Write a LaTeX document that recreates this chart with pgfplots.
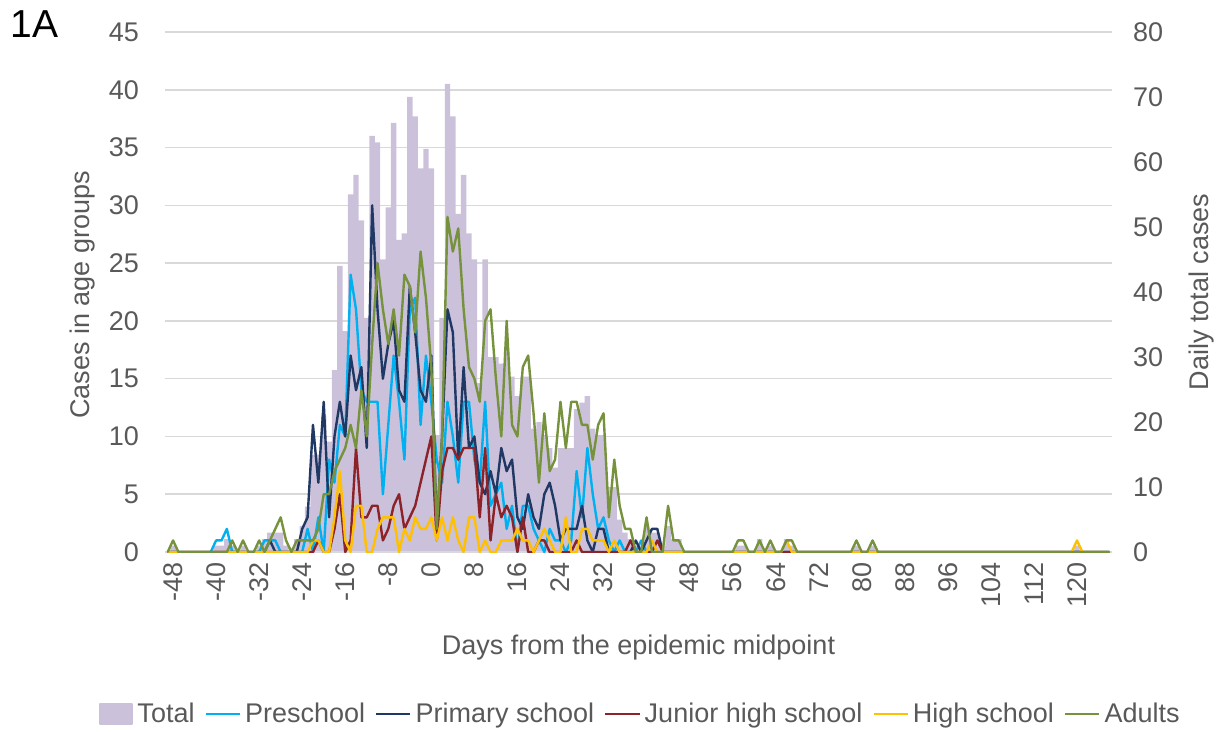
\documentclass[border=0pt]{standalone}
\usepackage{fontspec}
\setmainfont{Liberation Sans}
\usepackage{pgfplots}
\usepackage{pgfplotstable}
\pgfplotsset{compat=1.18}

\definecolor{totcol}{RGB}{204,193,218}
\definecolor{precol}{RGB}{0,176,240}
\definecolor{pricol}{RGB}{31,56,100}
\definecolor{juncol}{RGB}{140,35,40}
\definecolor{higcol}{RGB}{255,192,0}
\definecolor{aducol}{RGB}{118,146,60}
\definecolor{textgray}{HTML}{595959}
\definecolor{gridgray}{HTML}{D9D9D9}

\newcommand\ticksz{\fontsize{13.5pt}{15pt}\selectfont}

% d = day from midpoint, T = total, P = preschool, S = primary school,
% J = junior high, H = high school, A = adults
\pgfplotstableread{
d T P S J H A
-49 0 0 0 0 0 0
-48 1 0 0 0 0 1
-47 0 0 0 0 0 0
-46 0 0 0 0 0 0
-45 0 0 0 0 0 0
-44 0 0 0 0 0 0
-43 0 0 0 0 0 0
-42 0 0 0 0 0 0
-41 0 0 0 0 0 0
-40 1 1 0 0 0 0
-39 1 1 0 0 0 0
-38 2 2 0 0 0 0
-37 1 0 0 0 0 1
-36 0 0 0 0 0 0
-35 1 0 0 0 0 1
-34 0 0 0 0 0 0
-33 0 0 0 0 0 0
-32 1 0 0 0 0 1
-31 2 1 0 0 0 0
-30 3 1 1 0 0 1
-29 3 1 0 0 0 2
-28 3 0 0 0 0 3
-27 1 0 0 0 0 1
-26 0 0 0 0 0 0
-25 2 0 0 0 0 1
-24 4 0 2 0 0 1
-23 7 2 3 0 0 1
-22 15 0 11 0 1 1
-21 15 3 6 1 1 2
-20 21 0 13 0 0 5
-19 17 8 3 0 0 5
-18 28 6 10 2 3 7
-17 44 11 13 5 7 8
-16 34 10 10 0 1 9
-15 55 24 17 1 0 11
-14 58 21 14 9 4 9
-13 51 14 16 3 4 14
-12 36 13 9 3 0 10
-11 64 13 30 4 0 18
-10 63 13 21 4 2 25
-9 45 5 15 1 3 21
-8 53 11 18 2 3 18
-7 66 17 20 4 3 21
-6 48 13 14 5 0 17
-5 49 8 13 2 2 24
-4 70 21 23 3 1 23
-3 67 22 19 4 3 19
-2 59 11 14 6 2 26
-1 62 17 13 8 2 22
0 59 13 17 10 3 16
1 18 8 2 1 1 2
2 36 6 10 7 3 10
3 72 13 21 9 1 29
4 67 10 19 9 3 26
5 52 6 8 8 1 28
6 58 13 16 9 0 21
7 49 13 9 9 3 16
8 45 8 10 9 3 15
9 26 6 6 3 0 13
10 45 13 5 9 1 20
11 30 4 7 1 0 21
12 30 5 5 5 0 15
13 29 6 9 3 1 10
14 31 2 7 4 1 20
15 27 4 8 3 1 11
16 24 0 3 0 2 10
17 27 4 2 3 1 16
18 27 4 5 0 1 17
19 19 2 3 0 0 12
20 20 1 2 1 1 6
21 18 0 5 1 2 12
22 16 2 6 0 1 7
23 13 1 4 0 0 8
24 16 1 1 0 0 13
25 16 0 2 0 3 9
26 16 1 2 0 0 13
27 22 7 2 1 0 13
28 23 3 4 0 2 11
29 24 9 1 0 2 11
30 19 5 0 0 1 8
31 18 2 2 0 1 11
32 18 3 2 0 1 12
33 10 1 0 0 0 3
34 10 0 0 0 1 8
35 5 1 0 0 0 4
36 3 0 0 0 0 2
37 2 0 0 1 0 2
38 1 0 1 0 0 0
39 1 1 0 0 0 0
40 4 0 1 0 0 3
41 3 0 2 0 1 0
42 3 0 2 1 0 0
43 1 0 0 0 0 0
44 4 0 0 0 0 4
45 2 0 0 0 0 1
46 2 0 0 0 0 1
47 0 0 0 0 0 0
48 0 0 0 0 0 0
49 0 0 0 0 0 0
50 0 0 0 0 0 0
51 0 0 0 0 0 0
52 0 0 0 0 0 0
53 0 0 0 0 0 0
54 0 0 0 0 0 0
55 0 0 0 0 0 0
56 0 0 0 0 0 0
57 1 0 0 0 0 1
58 1 0 0 0 0 1
59 0 0 0 0 0 0
60 0 0 0 0 0 0
61 2 0 0 0 0 1
62 0 0 0 0 0 0
63 1 0 0 0 0 1
64 0 0 0 0 0 0
65 0 0 0 0 0 0
66 2 0 0 0 1 1
67 1 0 0 0 0 1
68 0 0 0 0 0 0
69 0 0 0 0 0 0
70 0 0 0 0 0 0
71 0 0 0 0 0 0
72 0 0 0 0 0 0
73 0 0 0 0 0 0
74 0 0 0 0 0 0
75 0 0 0 0 0 0
76 0 0 0 0 0 0
77 0 0 0 0 0 0
78 0 0 0 0 0 0
79 1 0 0 0 0 1
80 0 0 0 0 0 0
81 0 0 0 0 0 0
82 1 0 0 0 0 1
83 0 0 0 0 0 0
84 0 0 0 0 0 0
85 0 0 0 0 0 0
86 0 0 0 0 0 0
87 0 0 0 0 0 0
88 0 0 0 0 0 0
89 0 0 0 0 0 0
90 0 0 0 0 0 0
91 0 0 0 0 0 0
92 0 0 0 0 0 0
93 0 0 0 0 0 0
94 0 0 0 0 0 0
95 0 0 0 0 0 0
96 0 0 0 0 0 0
97 0 0 0 0 0 0
98 0 0 0 0 0 0
99 0 0 0 0 0 0
100 0 0 0 0 0 0
101 0 0 0 0 0 0
102 0 0 0 0 0 0
103 0 0 0 0 0 0
104 0 0 0 0 0 0
105 0 0 0 0 0 0
106 0 0 0 0 0 0
107 0 0 0 0 0 0
108 0 0 0 0 0 0
109 0 0 0 0 0 0
110 0 0 0 0 0 0
111 0 0 0 0 0 0
112 0 0 0 0 0 0
113 0 0 0 0 0 0
114 0 0 0 0 0 0
115 0 0 0 0 0 0
116 0 0 0 0 0 0
117 0 0 0 0 0 0
118 0 0 0 0 0 0
119 0 0 0 0 0 0
120 1 0 0 0 1 0
121 0 0 0 0 0 0
122 0 0 0 0 0 0
123 0 0 0 0 0 0
124 0 0 0 0 0 0
125 0 0 0 0 0 0
126 0 0 0 0 0 0
}\cases

\begin{document}
\begin{tikzpicture}
\pgfplotsset{
  base/.style={
    scale only axis, width=473.5pt, height=260pt,
    xmin=-49.5, xmax=126.5,
    major tick length=0pt,
    tick label style={font=\ticksz, text=textgray},
    /pgf/number format/assume math mode=true,
  },
}

% grid lines (behind everything)
\begin{axis}[base, ymin=0, ymax=45, ytick={0,5,...,45}, yticklabels={},
  xtick=\empty, ymajorgrids, grid style={gridgray, line width=0.8pt},
  axis line style={draw=none}]
\addplot[draw=none] coordinates {(0,0)};
\end{axis}

% daily totals, right axis
\begin{axis}[base, ymin=0, ymax=80, ytick={0,10,...,80},
  axis y line*=right, axis x line=none,
  y axis line style={draw=none},
  yticklabel style={anchor=west, xshift=7pt},
  every axis y label/.style={at={(axis description cs:1.095,0.5)},
    anchor=center, rotate=90, font=\ticksz, text=textgray},
  ylabel={Daily total cases}]
\addplot[ybar, bar width=1, bar shift=0pt, fill=totcol, draw=none]
  table[x=d, y=T]{\cases};
\end{axis}

% age groups, left axis
\begin{axis}[base, ymin=0, ymax=45, ytick={0,5,...,45},
  axis y line*=left, axis x line*=bottom,
  y axis line style={draw=none},
  x axis line style={gridgray, line width=0.8pt},
  xtick={-48,-40,...,120},
  xticklabel style={rotate=90, anchor=east, xshift=-1.5pt},
  yticklabel style={anchor=east, xshift=-9.5pt},
  every axis y label/.style={at={(axis description cs:-0.0876,0.494)},
    anchor=center, rotate=90, font=\ticksz, text=textgray},
  every axis x label/.style={at={(axis description cs:0.5,-0.1846)},
    anchor=center, font=\ticksz, text=textgray},
  ylabel={Cases in age groups},
  xlabel={Days from the epidemic midpoint},
  no markers, clip mode=individual,
  legend columns=-1,
  legend style={at={(axis description cs:0.503,-0.3115)}, anchor=center,
    draw=none, fill=none, font=\ticksz, text=textgray,
    nodes={inner xsep=2pt, inner ysep=1pt},
    /tikz/every even column/.append style={column sep=3pt}},
  every axis plot/.append style={line width=1.2pt, line join=round}]
\addlegendimage{legend image code/.code={
  \fill[totcol] (0pt,-5pt) rectangle (16pt,5pt);}}
\addlegendentry{Total}
\addplot[precol] table[x=d, y=P]{\cases};
\addlegendentry{Preschool}
\addplot[pricol] table[x=d, y=S]{\cases};
\addlegendentry{Primary school}
\addplot[juncol] table[x=d, y=J]{\cases};
\addlegendentry{Junior high school}
\addplot[higcol] table[x=d, y=H]{\cases};
\addlegendentry{High school}
\addplot[aducol] table[x=d, y=A]{\cases};
\addlegendentry{Adults}

\node[anchor=base west, inner sep=0pt, font=\fontsize{19.5pt}{21pt}\selectfont]
  at (rel axis cs:-0.1637,0.9885) {1A};
\coordinate (bbsw) at (rel axis cs:-0.17423,-0.34615);
\coordinate (bbne) at (rel axis cs:1.11404,1.06154);
\end{axis}
\pgfresetboundingbox
\path[use as bounding box] (bbsw) rectangle (bbne);
\end{tikzpicture}
\end{document}
